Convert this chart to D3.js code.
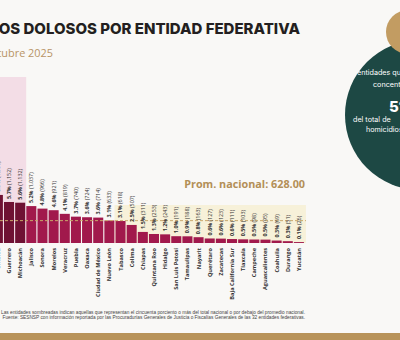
<!DOCTYPE html>
<html><head><meta charset="utf-8">
<script src="https://cdn.jsdelivr.net/npm/d3@7/dist/d3.min.js"></script>
<style>
html,body{margin:0;padding:0;background:#f9f8f6;}
svg{display:block;}
</style></head>
<body><svg id="c" width="400" height="340"></svg>
<script>
const states = ["Guanajuato","Chihuahua","Baja California","Estado de México","Sinaloa","Guerrero","Michoacán","Jalisco","Sonora","Morelos","Veracruz","Puebla","Oaxaca","Ciudad de México","Nuevo León","Tabasco","Colima","Chiapas","Quintana Roo","Hidalgo","San Luis Potosí","Tamaulipas","Nayarit","Querétaro","Zacatecas","Baja California Sur","Tlaxcala","Campeche","Aguascalientes","Coahuila","Durango","Yucatán"];
const homicides = [2100,1600,1500,1430,1350,1152,1132,1037,966,921,819,740,724,714,633,618,507,311,253,243,191,188,163,127,123,111,103,98,95,69,51,26];
const percents = [10.5,8.0,7.5,7.1,6.7,5.7,5.6,5.2,4.8,4.6,4.1,3.7,3.6,3.6,3.1,3.1,2.5,1.5,1.3,1.2,1.0,0.9,0.8,0.6,0.6,0.6,0.5,0.5,0.5,0.3,0.3,0.1];
const nationalAvg = 628.00;
const topCount = 7;
const titleText = "HOMICIDIOS DOLOSOS POR ENTIDAD FEDERATIVA";
const subtitleText = "Octubre 2025";
const notes = ["Las entidades sombreadas indican aquellas que representan el cincuenta porciento o más del total nacional o por debajo del promedio nacional.",
 "Fuente: SESNSP con información reportada por las Procuradurías Generales de Justicia o Fiscalías Generales de las 32 entidades federativas."];
const badgeLines = ["entidades que","concentran el","51.1%","del total de","homicidios"];

const svg = d3.select("#c");
const base = 243;
const x = d3.scaleBand().domain(states).range([-52.3, -52.3 + 32*11.15]).paddingInner(0.1).paddingOuter(0.05);
const y = d3.scaleLinear().domain([0, 2500]).range([base, base - 89]);

// shaded regions
const topLast = states[topCount-1];
svg.append("rect").attr("x",-80).attr("y",77)
  .attr("width", x(topLast)+x.bandwidth()+1+80).attr("height", base-77)
  .attr("fill","#f3dde6");
const lowIdx = homicides.findIndex(v => v < nationalAvg);
const lowFirst = states[lowIdx], lowLast = states[states.length-1];
svg.append("rect").attr("x", x(lowFirst)-1).attr("y",205)
  .attr("width", x(lowLast)+x.bandwidth()+2-(x(lowFirst)-1)).attr("height", base-205)
  .attr("fill","#f7f1d9");

// bars
svg.append("g").selectAll("rect").data(states).join("rect")
  .attr("x", d => x(d)).attr("width", x.bandwidth())
  .attr("y", (d,i) => y(homicides[i])).attr("height", (d,i) => base - y(homicides[i]))
  .attr("fill", (d,i) => i < topCount ? "#6f1133" : "#a1194c");

// average line
svg.append("line").attr("x1",-10).attr("x2", x(lowLast)+x.bandwidth()+2)
  .attr("y1", y(nationalAvg)).attr("y2", y(nationalAvg))
  .attr("stroke","#c9a86c").attr("stroke-width",1).attr("stroke-dasharray","3,2");
svg.append("text").attr("x",305).attr("y",188).attr("text-anchor","end")
  .attr("font-family","'Open Sans'").attr("font-weight",700).attr("font-size",10.8)
  .attr("fill","#b38f56").text("Prom. nacional: " + d3.format(".2f")(nationalAvg));

// value labels
const fmt = d3.format(",");
const vl = svg.append("g").selectAll("text").data(states).join("text")
  .attr("transform",(d,i) => `translate(${x(d)+x.bandwidth()/2+1.9},${y(homicides[i])-3}) rotate(-90)`)
  .attr("font-family","'Open Sans'").attr("font-size",5.4).attr("fill","#333");
vl.append("tspan").attr("font-weight",700).text((d,i) => percents[i].toFixed(1)+"%");
vl.append("tspan").text((d,i) => " ("+fmt(homicides[i])+")");

// category labels
svg.append("g").selectAll("text").data(states).join("text")
  .attr("transform", d => `translate(${x(d)+x.bandwidth()/2+2},248) rotate(-90)`)
  .attr("text-anchor","end").attr("font-family","'Open Sans'").attr("font-weight",700)
  .attr("font-size",5.6).attr("fill","#333").text(d => d);

// title
svg.append("text").attr("x",300).attr("y",34).attr("text-anchor","end")
  .attr("font-family","Inter").attr("font-weight",800).attr("font-size",15)
  .attr("fill","#231f20").text(titleText);
svg.append("text").attr("x",53).attr("y",57).attr("text-anchor","end")
  .attr("font-family","'Open Sans'").attr("font-size",10.9).attr("fill","#b89466").text(subtitleText);

// badge
svg.append("circle").attr("cx",420).attr("cy",115).attr("r",75).attr("fill","#1d4844");
svg.append("circle").attr("cx",408).attr("cy",32).attr("r",22).attr("fill","#c29c62");
const bx = [357,373,389,353,366], by = [75,87,112,122,132];
svg.append("g").selectAll("text").data(badgeLines).join("text")
  .attr("x",(d,i)=>bx[i]).attr("y",(d,i)=>by[i])
  .attr("font-family","Inter").attr("fill","#fff")
  .attr("font-size",(d,i)=> i===2 ? 15 : 7.2).attr("font-weight",(d,i)=> i===2 ? 800 : 400)
  .text(d=>d);

// notes
svg.append("g").selectAll("text").data(notes).join("text")
  .attr("x",305).attr("y",(d,i)=>314+i*5).attr("text-anchor","end")
  .attr("font-family","'Liberation Sans'").attr("font-size",4.75).attr("fill","#444").text(d=>d);

svg.append("rect").attr("x",0).attr("y",333).attr("width",400).attr("height",7).attr("fill","#b8935a");
</script></body></html>
